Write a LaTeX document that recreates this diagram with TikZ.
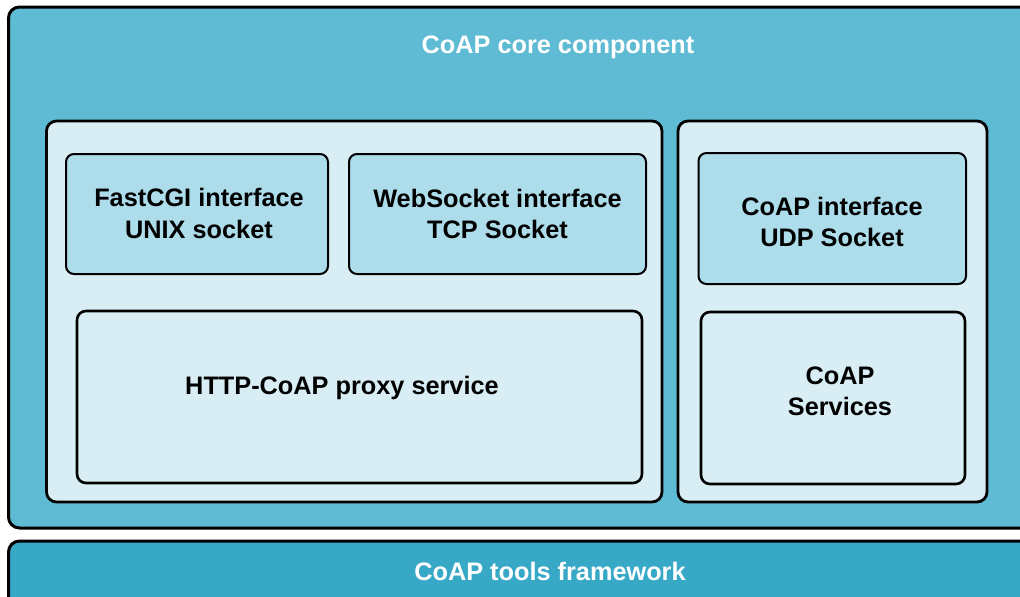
\documentclass[tikz,border=0pt]{standalone}
\usepackage{fontspec}
\setmainfont{Liberation Sans}
\definecolor{coreblue}{HTML}{5EBBD3}
\definecolor{toolsblue}{HTML}{37A9C7}
\definecolor{paleblue}{HTML}{D8EEF4}
\definecolor{midblue}{HTML}{ADDCEA}
\begin{document}
\begin{tikzpicture}[x=1pt,y=-1pt,
  every node/.style={inner sep=0pt, outer sep=0pt},
  labeltext/.style={font=\fontsize{25.3}{31.5}\selectfont\bfseries, align=center},
  layerbox/.style={draw=black, line width=3pt, rounded corners=11pt, rectangle},
  groupbox/.style={draw=black, line width=2.8pt, rounded corners=10pt, fill=paleblue, rectangle},
  ifacebox/.style={draw=black, line width=2pt, rounded corners=8pt, fill=midblue, rectangle},
  servicebox/.style={draw=black, line width=2.6pt, rounded corners=9pt, fill=paleblue, rectangle}
]
\clip (0,0) rectangle (1020,597);
\fill[white] (0,0) rectangle (1020,597);

% layers
\node[layerbox, fill=coreblue, minimum width=1099pt, minimum height=521pt] (core) at (558,267.5) {};
\node[labeltext, text=white] (coretitle) at (558,47.5) {CoAP core component};
\node[layerbox, fill=toolsblue, minimum width=1083pt, minimum height=90pt] (tools) at (550,586) {};
\node[labeltext, text=white] (toolstitle) at (550,571) {CoAP tools framework};

% groups
\node[groupbox, minimum width=615.5pt, minimum height=381pt] (proxygroup) at (354.25,311.5) {};
\node[groupbox, minimum width=309pt, minimum height=381pt] (coapgroup) at (832.5,311.5) {};

% interfaces
\node[ifacebox, minimum width=262pt, minimum height=120pt] (fcgi) at (197,214) {};
\node[labeltext] (fcgitext) at (199,213.5) {FastCGI interface\\UNIX socket};
\node[ifacebox, minimum width=297pt, minimum height=120pt] (ws) at (497.5,214) {};
\node[labeltext] (wstext) at (497.5,214) {WebSocket interface\\TCP Socket};
\node[ifacebox, minimum width=267.5pt, minimum height=131pt] (coapif) at (832.25,218.5) {};
\node[labeltext] (coapiftext) at (832,222) {CoAP interface\\UDP Socket};

% services
\node[servicebox, minimum width=565pt, minimum height=172pt] (proxy) at (359.5,397) {};
\node[labeltext] (proxytext) at (342,388) {HTTP-CoAP proxy service};
\node[servicebox, minimum width=264pt, minimum height=172pt] (services) at (833,398) {};
\node[labeltext] (servicestext) at (840,391.5) {CoAP\\Services};
\end{tikzpicture}
\end{document}
